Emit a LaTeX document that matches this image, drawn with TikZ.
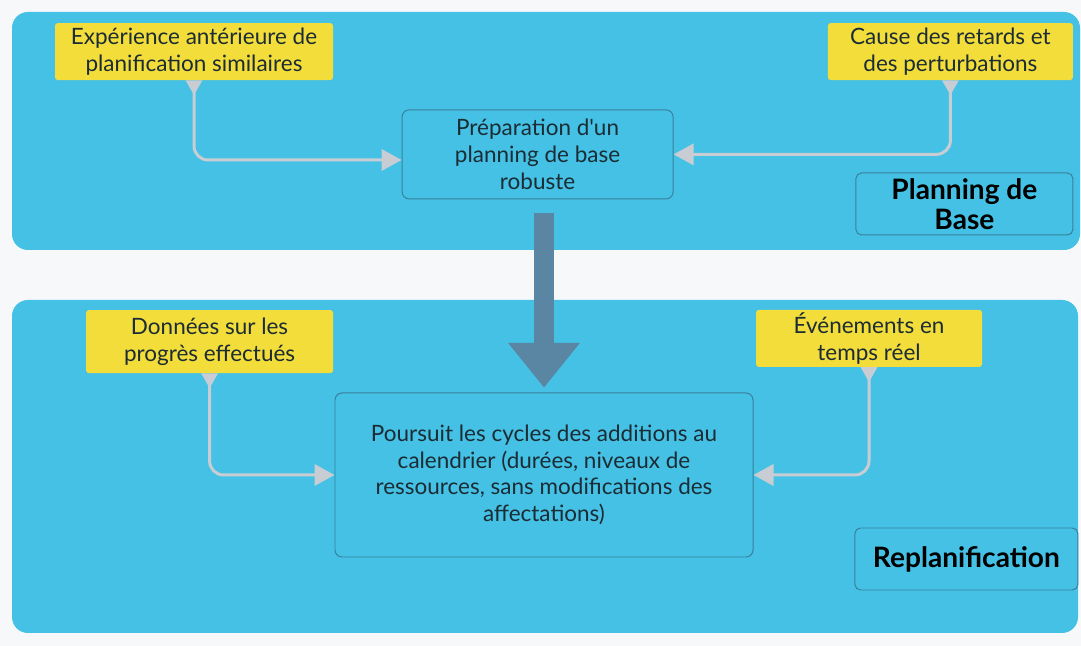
\documentclass[tikz,border=0pt]{standalone}
\usepackage{fontspec}
\setmainfont{Lato}
\usepackage{xcolor}
\usepackage{tikz}
\usetikzlibrary{arrows.meta, positioning, calc}
\definecolor{pageback}{RGB}{247,248,250}
\definecolor{panelblue}{RGB}{68,193,228}
\definecolor{noteyellow}{RGB}{242,221,58}
\definecolor{boxedge}{RGB}{58,128,155}
\definecolor{linkgrey}{RGB}{200,205,211}
\definecolor{flowblue}{RGB}{90,134,163}
\definecolor{inktext}{RGB}{28,44,52}
\tikzstyle{panel} = [fill=panelblue, draw=none, rounded corners=0.4cm]
\tikzstyle{link} = [draw=linkgrey, line width=0.075cm, rounded corners=0.35cm, {Triangle[reversed, width=0.4cm, length=0.37cm]}-{Triangle[width=0.53cm, length=0.5cm]}]

\begin{document}
\begin{tikzpicture}[
    note/.style={rectangle, rounded corners=2pt, fill=noteyellow, text=inktext, align=center,
        inner sep=2pt, font=\fontsize{16}{19}\selectfont},
    task/.style={rectangle, rounded corners=5pt, draw=boxedge, line width=0.7pt, fill=panelblue,
        text=inktext, align=center, inner sep=2pt, font=\fontsize{16}{19}\selectfont},
    phase/.style={rectangle, rounded corners=4pt, draw=boxedge, line width=0.7pt, fill=panelblue,
        text=black, align=center, inner sep=2pt, font=\bfseries\fontsize{20}{21.5}\selectfont},
    bigflow/.style={draw=flowblue, line width=0.5cm, -{Triangle[width=1.72cm, length=1.12cm]}}
]

% Page and panels
\useasboundingbox[fill=pageback] (0,0) rectangle (27.025,16.15);
\path[panel] (0.3,9.9) rectangle (27.0,15.85);
\path[panel] (0.3,0.325) rectangle (26.95,8.65);

% Planning de base
\node[note, minimum width=6.95cm, minimum height=1.425cm] (experience) at (4.85,14.86)
    {Expérience antérieure de\\planification similaires};
\node[note, minimum width=6.125cm, minimum height=1.425cm] (causes) at (23.76,14.86)
    {Cause des retards et\\des perturbations};
\node[task, minimum width=6.775cm, minimum height=2.225cm] (preparation) at (13.44,12.29)
    {Préparation d\textquotesingle un\\planning de base\\robuste};
\node[phase, minimum width=5.425cm, minimum height=1.55cm] (base) at (24.11,11.05)
    {Planning de\\Base};

% Replanification
\node[note, minimum width=6.175cm, minimum height=1.575cm] (progres) at (5.24,7.61)
    {Données sur les\\progrès effectués};
\node[note, minimum width=5.65cm, minimum height=1.425cm] (evenements) at (21.725,7.69)
    {Événements en\\temps réel};
\node[task, minimum width=10.45cm, minimum height=4.1cm] (cycles) at (13.6,4.275)
    {Poursuit les cycles des additions au\\calendrier (durées, niveaux de\\ressources, sans modifications des\\affectations)};
\node[phase, minimum width=5.575cm, minimum height=1.55cm] (replan) at (24.16,2.175)
    {Replanification};

% Links
\draw[link] (experience.south) |- ([yshift=-0.14cm]preparation.west);
\draw[link] (causes.south) |- (preparation.east);
\draw[link] (progres.south) |- (cycles.west);
\draw[link] (evenements.south) |- (cycles.east);

% Flow between the phases
\draw[bigflow, shorten <=0.35cm, shorten >=0.12cm] (preparation.south -| cycles.north) -- (cycles.north);

\end{tikzpicture}
\end{document}
